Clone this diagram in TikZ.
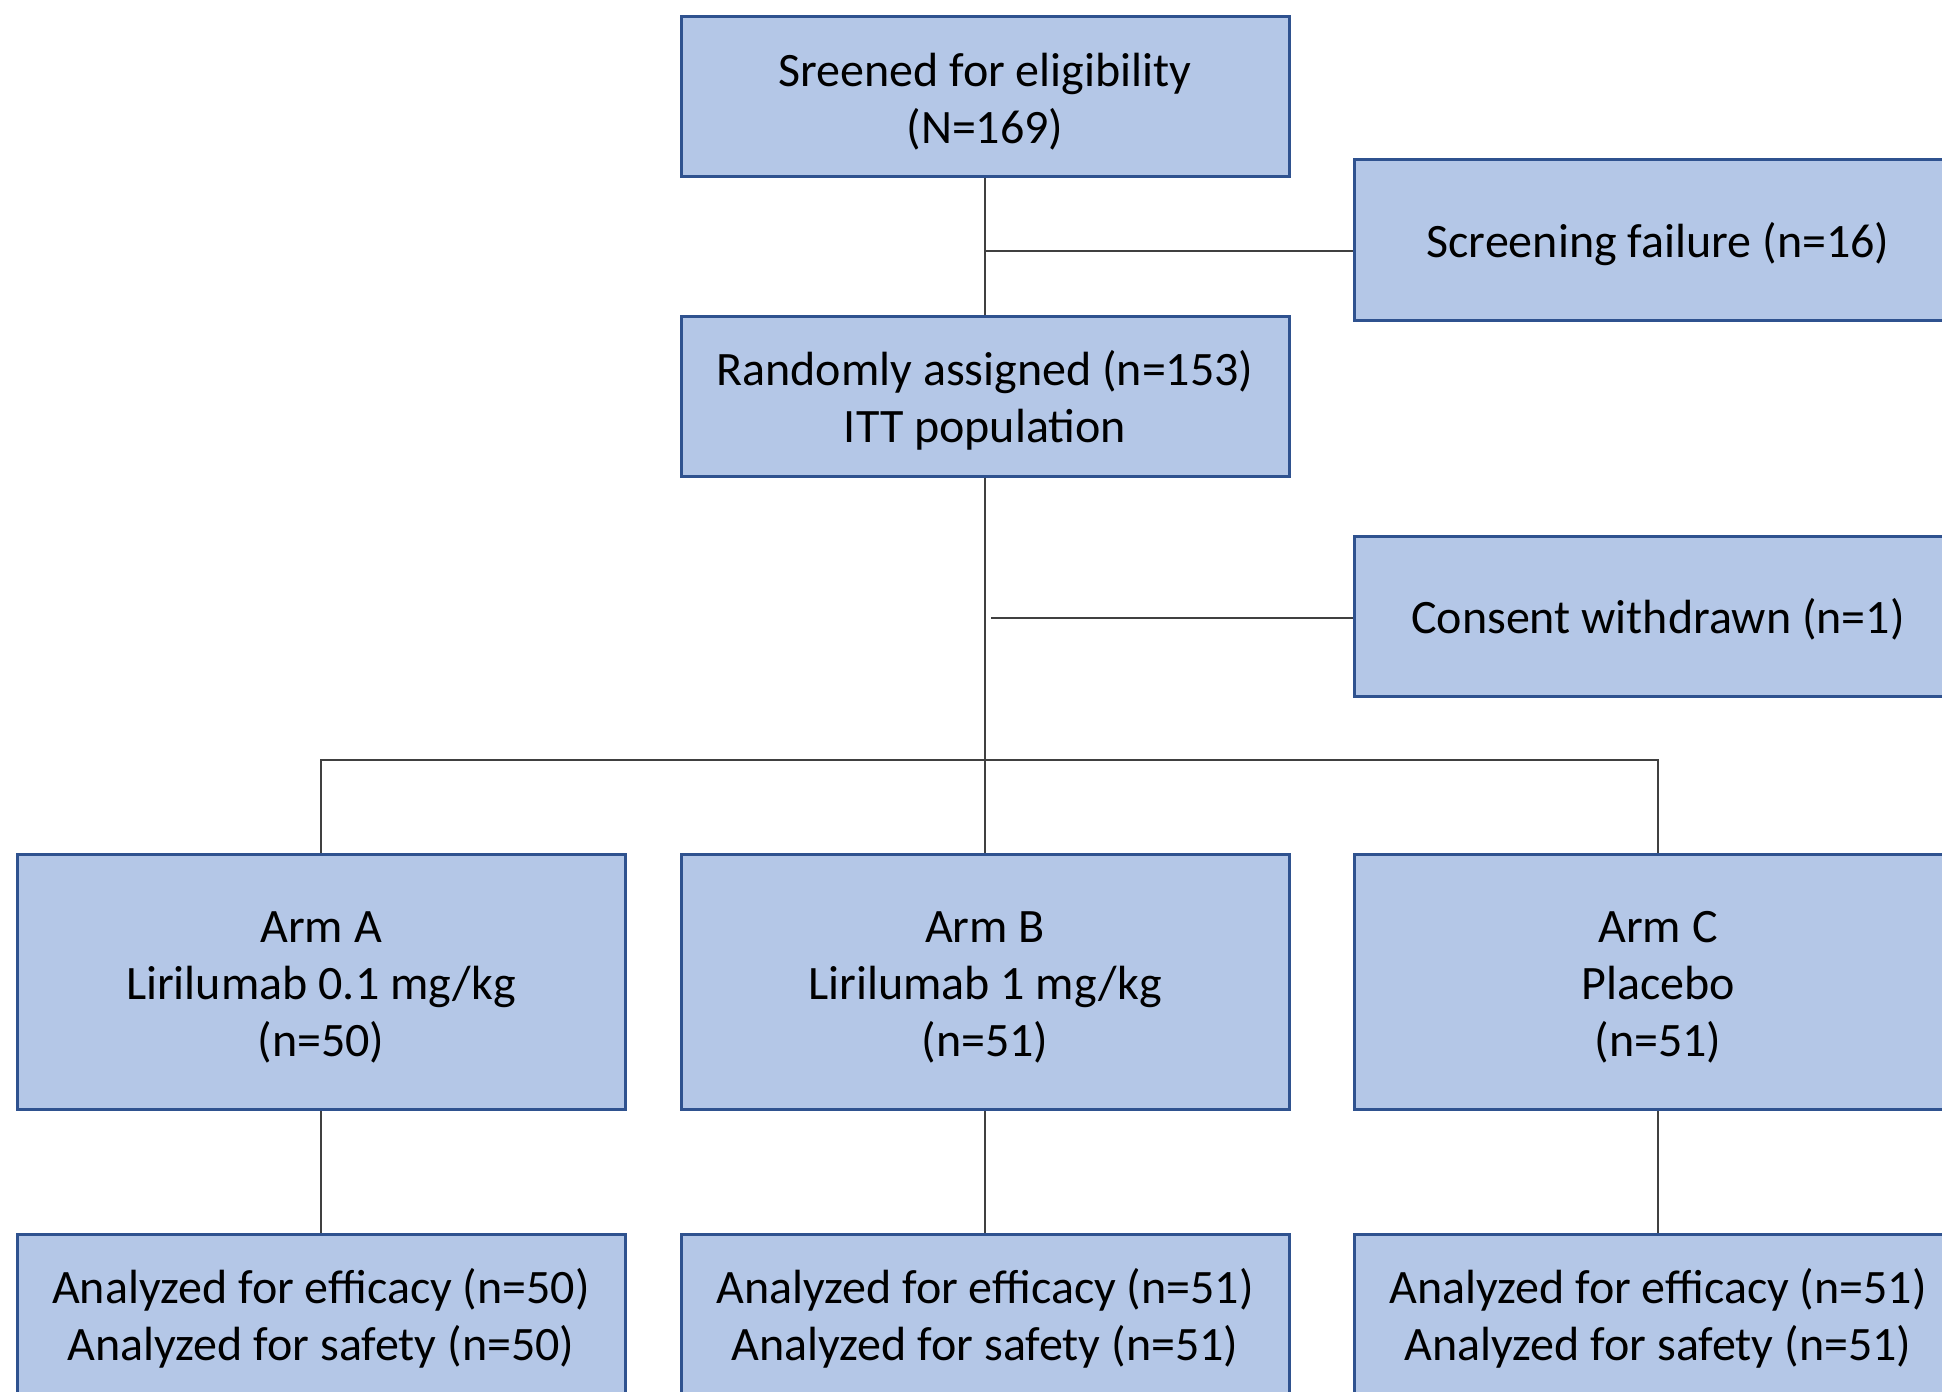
\documentclass[tikz,border=0pt]{standalone}
\usepackage{fontspec}
\setmainfont{Carlito}
\usetikzlibrary{positioning}

\definecolor{boxfill}{HTML}{B4C7E7}
\definecolor{boxline}{HTML}{2F528F}
\definecolor{linkline}{HTML}{404040}

\newcommand{\boxlines}[1]{\raisebox{-3.1pt}[\height][\depth]{\begin{tabular}{@{}c@{}}#1\end{tabular}}}

\tikzset{
    flowbox/.style={draw=boxline, fill=boxfill, line width=1.5pt, minimum width=304pt,
        minimum height=80pt, inner sep=0pt, font=\fontsize{24}{28.5}\selectfont},
    armbox/.style={flowbox, minimum height=127.5pt},
    link/.style={draw=linkline, line width=0.6pt}
}

\begin{document}
\begin{tikzpicture}[x=0.5pt, y=-0.5pt]
    \useasboundingbox (0, 0) rectangle (1942, 1391);
    \clip (0, 0) rectangle (1942, 1391);

    \node [flowbox] (screen) at (985, 97) {\boxlines{Sreened for eligibility\\(N=169)}};
    \node [flowbox] (fail) at (1658, 240) {\boxlines{Screening failure (n=16)}};
    \node [flowbox] (rand) at (985, 396) {\boxlines{Randomly assigned (n=153)\\ITT population}};
    \node [flowbox] (consent) at (1658, 616) {\boxlines{Consent withdrawn (n=1)}};

    \node [armbox] (armA) at (321, 982) {\boxlines{Arm A\\Lirilumab 0.1 mg/kg\\(n=50)}};
    \node [armbox] (armB) at (985, 982) {\boxlines{Arm B\\Lirilumab 1 mg/kg\\(n=51)}};
    \node [armbox] (armC) at (1658, 982) {\boxlines{Arm C\\Placebo\\(n=51)}};

    \node [flowbox] (anaA) at (321, 1314) {\boxlines{Analyzed for efficacy (n=50)\\Analyzed for safety (n=50)}};
    \node [flowbox] (anaB) at (985, 1314) {\boxlines{Analyzed for efficacy (n=51)\\Analyzed for safety (n=51)}};
    \node [flowbox] (anaC) at (1658, 1314) {\boxlines{Analyzed for efficacy (n=51)\\Analyzed for safety (n=51)}};

    \coordinate (failjoin) at (985, 251);
    \coordinate (consentjoin) at (991, 618);
    \coordinate (bus) at (985, 760);

    \draw [link] (screen) -- (rand);
    \draw [link] (failjoin) -- (failjoin -| fail.west);
    \draw [link] (rand) -- (armB);
    \draw [link] (consentjoin) -- (consentjoin -| consent.west);
    \draw [link] (armA.north) |- (bus) -| (armC.north);

    \draw [link] (armA) -- (anaA);
    \draw [link] (armB) -- (anaB);
    \draw [link] (armC) -- (anaC);
\end{tikzpicture}
\end{document}
